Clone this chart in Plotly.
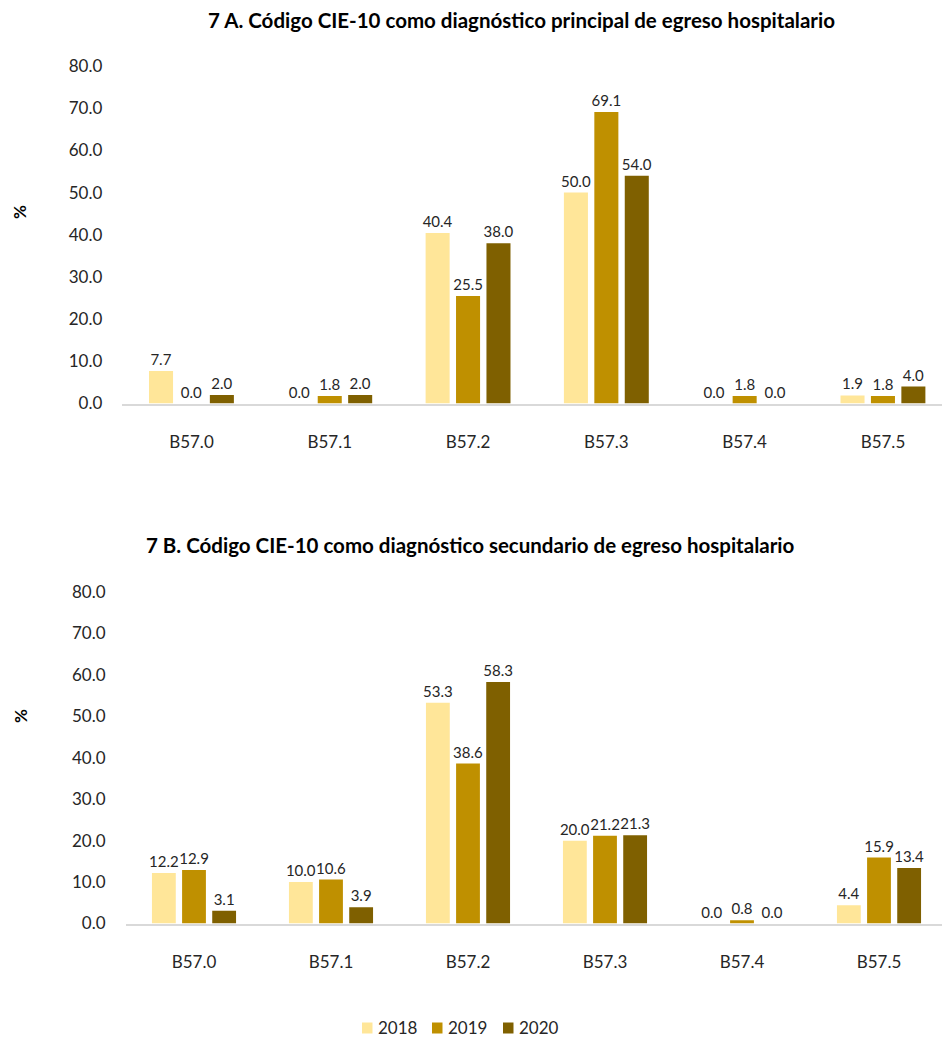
import plotly.graph_objects as go
from plotly.subplots import make_subplots

categories = ["B57.0", "B57.1", "B57.2", "B57.3", "B57.4", "B57.5"]
years = ["2018", "2019", "2020"]

# 7 A: principal diagnosis
principal_2018 = [7.7, 0.0, 40.4, 50.0, 0.0, 1.9]
principal_2019 = [0.0, 1.8, 25.5, 69.1, 1.8, 1.8]
principal_2020 = [2.0, 2.0, 38.0, 54.0, 0.0, 4.0]

# 7 B: secondary diagnosis
secondary_2018 = [12.2, 10.0, 53.3, 20.0, 0.0, 4.4]
secondary_2019 = [12.9, 10.6, 38.6, 21.2, 0.8, 15.9]
secondary_2020 = [3.1, 3.9, 58.3, 21.3, 0.0, 13.4]

y_ticks = [0, 10, 20, 30, 40, 50, 60, 70, 80]

colors = ["#FFE699", "#BF9000", "#7F6000"]
font_family = "Lato, 'Open Sans', sans-serif"

W, H = 942, 1038

fig = make_subplots(rows=2, cols=1)

panels = [
    (1, [principal_2018, principal_2019, principal_2020]),
    (2, [secondary_2018, secondary_2019, secondary_2020]),
]
for row, series in panels:
    for year, vals, col in zip(years, series, colors):
        fig.add_trace(
            go.Bar(
                x=categories,
                y=vals,
                name=year,
                marker=dict(color=col, line=dict(width=0)),
                text=[f"{v:.1f}" for v in vals],
                textposition="outside",
                constraintext="none",
                textfont=dict(size=15, color="#262626", family=font_family),
                cliponaxis=False,
                showlegend=False,
            ),
            row=row,
            col=1,
        )

def fy(px):
    return 1 - px / H

def fx(px):
    return px / W

# plot areas run past the right edge of the page, so the visible part of the
# category axis is trimmed through the axis range
top_left, top_step = 122.3, 138.3
bot_left, bot_step = 125.5, 137.0

common_x = dict(
    showline=True,
    linecolor="#D9D9D9",
    linewidth=1.5,
    showgrid=False,
    ticks="outside",
    ticklen=22,
    tickcolor="rgba(0,0,0,0)",
    tickfont=dict(size=17, color="#262626", family=font_family),
)
common_y = dict(
    range=[0, 80],
    tickvals=y_ticks,
    ticktext=[f"{v:.1f}" for v in y_ticks],
    showgrid=False,
    zeroline=False,
    showline=False,
    ticks="",
    ticklabelstandoff=19,
    tickfont=dict(size=17, color="#262626", family=font_family),
)
fig.update_layout(
    xaxis=dict(domain=[fx(top_left), 1], range=[-0.5, -0.5 + (W - top_left) / top_step], **common_x),
    xaxis2=dict(domain=[fx(bot_left), 1], range=[-0.5, -0.5 + (W - bot_left) / bot_step], **common_x),
    yaxis=dict(domain=[fy(403.5), fy(66)], **common_y),
    yaxis2=dict(domain=[fy(923.5), fy(592)], **common_y),
)

titles = [
    ("<b>7 A. Código CIE-10 como diagnóstico principal de egreso hospitalario</b>", 521, 20),
    ("<b>7 B. Código CIE-10 como diagnóstico secundario de egreso hospitalario</b>", 470, 545),
]
for text, xpx, ypx in titles:
    fig.add_annotation(
        text=text, x=fx(xpx), y=fy(ypx), xref="paper", yref="paper",
        xanchor="center", yanchor="middle", showarrow=False,
        font=dict(size=20.5, color="#000000", family=font_family),
    )
for ypx in (212, 716):
    fig.add_annotation(
        text="<b>%</b>", x=fx(20), y=fy(ypx), xref="paper", yref="paper",
        xanchor="center", yanchor="middle", showarrow=False, textangle=-90,
        font=dict(size=17, color="#000000", family=font_family),
    )

# legend row: colour swatch + year label
legend_x = [362, 432, 503]
legend_y = 1027
for year, col, lx in zip(years, colors, legend_x):
    fig.add_shape(
        type="rect", xref="paper", yref="paper",
        x0=fx(lx), x1=fx(lx + 10.5), y0=fy(legend_y + 6.5), y1=fy(legend_y - 4.5),
        fillcolor=col, line=dict(width=0),
    )
    fig.add_annotation(
        text=year, x=fx(lx + 15), y=fy(legend_y), xref="paper", yref="paper",
        xanchor="left", yanchor="middle", showarrow=False, borderpad=0,
        font=dict(size=17, color="#262626", family=font_family),
    )

fig.update_layout(
    width=W,
    height=H,
    margin=dict(l=0, r=0, t=0, b=0, autoexpand=False),
    paper_bgcolor="white",
    plot_bgcolor="white",
    barmode="group",
    bargap=0.34,
    bargroupgap=0.21,
    showlegend=False,
)

fig.write_html("out.html")
